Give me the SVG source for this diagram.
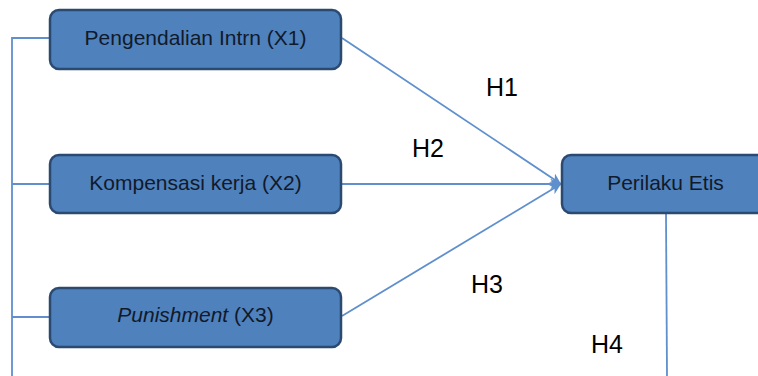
<svg xmlns="http://www.w3.org/2000/svg" width="758" height="376" viewBox="0 0 758 376">
<style>
.box{fill:#4f81bd;stroke:#2a4a72;stroke-width:2.5}
.lbl{font-family:"Liberation Sans",Arial,sans-serif;font-size:21px;fill:#111a2a;text-anchor:middle}
.h{font-family:"Liberation Sans",Arial,sans-serif;font-size:25px;fill:#000}
.ln{stroke:#5f8fcd;stroke-width:1.8;fill:none}
</style>
<defs>
<marker id="arr" viewBox="0 0 10 10" refX="10" refY="5" markerWidth="6" markerHeight="6" markerUnits="strokeWidth" orient="auto">
<path d="M0,0 L10,5 L0,10 L3,5 Z" fill="#5f8fcd"/>
</marker>
</defs>
<rect width="758" height="376" fill="#fff"/>
<g id="connectors">
<path class="ln" d="M12,376 L12,38 L50,38 M12,184 L50,184 M12,317 L50,317"/>
<line class="ln" x1="342" y1="38" x2="561" y2="184" marker-end="url(#arr)"/>
<line class="ln" x1="342" y1="184" x2="561" y2="184" marker-end="url(#arr)"/>
<line class="ln" x1="342" y1="316" x2="561" y2="184" marker-end="url(#arr)"/>
<line class="ln" x1="666" y1="213" x2="667" y2="376"/>
</g>
<g id="x1">
<rect class="box" x="50" y="10" width="291" height="59" rx="9"/>
<text class="lbl" x="195.5" y="45">Pengendalian Intrn (X1)</text>
</g>
<g id="x2">
<rect class="box" x="50" y="155" width="291" height="58" rx="9"/>
<text class="lbl" x="195.5" y="190">Kompensasi kerja (X2)</text>
</g>
<g id="x3">
<rect class="box" x="50" y="288" width="291" height="59" rx="9"/>
<text class="lbl" x="195.5" y="322"><tspan font-style="italic">Punishment</tspan> (X3)</text>
</g>
<g id="y">
<rect class="box" x="562" y="155" width="210" height="58" rx="9"/>
<text class="lbl" x="665.5" y="190">Perilaku Etis</text>
</g>
<g id="labels">
<text class="h" x="486" y="96">H1</text>
<text class="h" x="412" y="157">H2</text>
<text class="h" x="471" y="293">H3</text>
<text class="h" x="591" y="353">H4</text>
</g>
</svg>
